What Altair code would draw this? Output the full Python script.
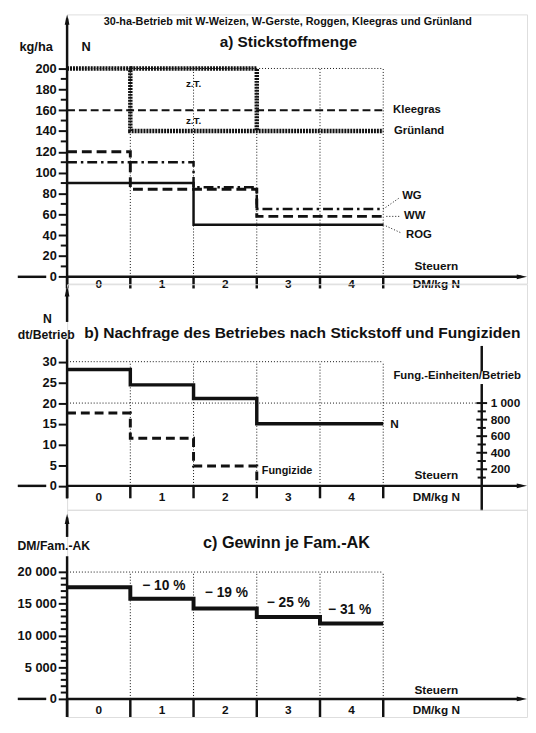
import altair as alt
import pandas as pd

FONT = "Liberation Sans, Arial, sans-serif"
INK = "#111111"

# ---------------- data ----------------
step_bounds = [0, 1, 2, 3, 4, 5]            # Steuern, DM/kg N (class bounds)
price_labels = ["0", "1", "2", "3", "4"]
price_pos = [0.5, 1.5, 2.5, 3.5, 4.5]

# a) Stickstoffmenge, kg N/ha (value per price class 0..4)
a_ww = [120, 84, 84, 58, 58]
a_wg = [110, 110, 86, 65, 65]
a_rog = [90, 90, 50, 50, 50]
a_kleegras = [160, 160, 160, 160, 160]
a_gruenland = [200, 140, 140, 140, 140]
a_zt_x = [1, 3, 3]
a_zt_y = [200, 200, 140]
a_ticks = list(range(0, 201, 20))
a_minor = list(range(10, 200, 20))

# b) Nachfrage des Betriebes, dt N/Betrieb and Fungizide
b_n = [28.1, 24.4, 21.1, 15.0, 15.0]
b_fung = [17.6, 11.5, 4.8, 0.0]          # at class bounds 0..3
b_ticks = [0, 5, 10, 15, 20, 25, 30]
b_fung_ticks = [200, 400, 600, 800, 1000]
b_fung_labels = ["200", "400", "600", "800", "1 000"]
b_fung_minor = [100, 300, 500, 700, 900]
FUNG_PER_DT = 50                          # 1000 Fung.-Einheiten <-> 20 dt

# c) Gewinn je Fam.-AK, DM
c_gewinn = [17600, 15800, 14250, 12900, 11900]
c_pct = ["− 10 %", "− 19 %", "− 25 %", "− 31 %"]
c_pct_x = [1.53, 2.52, 3.50, 4.47]
c_pct_y = [17750, 16700, 15150, 13950]
c_ticks = [0, 5000, 10000, 15000, 20000]
c_minor = [v for v in range(1000, 20000, 1000) if v % 5000]

# ---------------- layout ----------------
PX_PER_STEP = 64.2
PLOT_W = 467
X_MAX = PLOT_W / PX_PER_STEP
X_SCALE = alt.Scale(domain=[0, X_MAX], nice=False, zero=False)
X_LEFT = -0.78
X_GAP = -0.33
STEUERN_X = 5.84
V_FIT = 0.983          # vertical squeeze so the page needs no scrolling
UP = "M0,0L0.6,2.6L-0.6,2.6Z"
RIGHT = "M0,0L-2.6,-0.6L-2.6,0.6Z"
GRID = dict(dash=[1, 2], width=1)


def ext(v):
    return v + [v[-1]]


def axis(values, expr=None):
    kw = dict(values=values, title=None, domain=False, grid=False, ticks=True,
              tickSize=9, tickWidth=2, tickColor=INK, labelColor=INK,
              labelFont=FONT, labelFontSize=13, labelFontWeight="bold",
              labelPadding=2, labelFlush=False, labelOverlap=False)
    if expr:
        kw["labelExpr"] = expr
    return alt.Axis(**kw)


class Panel:
    def __init__(self, domain, height, y_axis):
        self.ysc = alt.Scale(domain=domain, nice=False, zero=False)
        self.height = round(height * V_FIT, 1)
        self.y_axis = y_axis
        self.layers = []

    def _xy(self):
        return dict(x=alt.X("x:Q", scale=X_SCALE, axis=None),
                    y=alt.Y("y:Q", scale=self.ysc, axis=self.y_axis))

    def rules(self, rows, width=1.0, dash=None, opacity=1.0):
        df = pd.DataFrame(rows, columns=["x", "y", "x2", "y2"])
        mk = dict(color=INK, strokeWidth=width, opacity=opacity)
        if dash:
            mk["strokeDash"] = dash
        self.layers.append(alt.Chart(df).mark_rule(**mk).encode(
            x2="x2:Q", y2="y2:Q", **self._xy()))

    def line(self, xs, ys, width, dash=None, step=True):
        df = pd.DataFrame({"x": xs, "y": ys, "o": list(range(len(xs)))})
        mk = dict(color=INK, strokeWidth=width,
                  interpolate="step-after" if step else "linear")
        if dash:
            mk["strokeDash"] = dash
        self.layers.append(alt.Chart(df).mark_line(**mk).encode(
            order="o:Q", **self._xy()))

    def text(self, rows, size=12, align="center", baseline="middle"):
        df = pd.DataFrame(rows, columns=["x", "y", "t"])
        self.layers.append(alt.Chart(df).mark_text(
            font=FONT, fontWeight="bold", fontSize=size, align=align,
            baseline=baseline, color=INK).encode(text="t:N", **self._xy()))

    def arrow(self, x, y, shape):
        df = pd.DataFrame({"x": [x], "y": [y]})
        self.layers.append(alt.Chart(df).mark_point(
            shape=shape, size=64, filled=True, color=INK, opacity=1,
            strokeWidth=0).encode(**self._xy()))

    def chart(self):
        return alt.layer(*self.layers).properties(width=PLOT_W, height=self.height)


def grid(p, top):
    p.rules([[b, 0, b, top] for b in step_bounds[1:]] + [[0, top, 5, top]], **GRID)


def frame(p, tick_bottom, y_tip, y_segments, label_y, steuern_y):
    p.rules([[X_LEFT, 0, X_GAP, 0], [0, 0, X_MAX - 0.09, 0]], width=2.5)
    p.arrow(X_MAX, 0, RIGHT)
    p.rules([[b, 0, b, tick_bottom] for b in step_bounds], width=2.5)
    p.rules([[0, a, 0, b] for a, b in y_segments], width=2.5)
    p.arrow(0, y_tip, UP)
    p.text([[c, label_y, l] for c, l in zip(price_pos, price_labels)]
           + [[STEUERN_X, label_y, "DM/kg N"], [STEUERN_X, steuern_y, "Steuern"]],
           size=12)


# ---------------- panel a ----------------
pa = Panel([-6.5, 251.9], 278, axis(a_ticks))
pa.rules([[-0.912, 251.9, -0.912, 251.0]], width=1, opacity=0)   # layout anchor
grid(pa, 200)
pa.rules([[-0.1, v, 0, v] for v in a_minor], width=2)
pa.line(step_bounds, ext(a_kleegras), 2, dash=[8, 4])
pa.line(step_bounds, ext(a_gruenland), 4.5, dash=[2, 1])
pa.line(a_zt_x, a_zt_y, 4.5, dash=[2, 1], step=False)
pa.line(step_bounds, ext(a_rog), 2.5)
pa.line(step_bounds, ext(a_ww), 3, dash=[10, 5])
pa.line(step_bounds, ext(a_wg), 2.5, dash=[10, 4, 2.5, 4])
pa.rules([[5, a_wg[-1], 5.265, 76.2], [5.05, a_ww[-1], 5.265, a_ww[-1]],
          [5, a_rog[-1], 5.296, 41.8]], **GRID)
pa.text([[5.156, 160, "Kleegras"], [5.17, 140.4, "Grünland"],
         [5.3, 77.2, "WG"], [5.33, 58.6, "WW"], [5.36, 40, "ROG"]],
        size=11.5, align="left")
pa.text([[2, 185, "z.T."], [2, 149.5, "z.T."]], size=10)
frame(pa, -11.2, 251.9, [[248, -11.2]], -7.4, 10.2)
pa.text([[-0.49, 220.3, "kg/ha"], [0.30, 220.3, "N"]], size=13)
pa.text([[3.5, 225, "a) Stickstoffmenge"]], size=15.6)
pa.text([[3.49, 250.5, "30-ha-Betrieb mit W-Weizen, W-Gerste, Roggen, Kleegras und Grünland"]],
        size=11, baseline="top")

# ---------------- panel b ----------------
pb = Panel([-5.78, 48.70], 233, axis(b_ticks))
grid(pb, 30)
FUNG_X = 6.558
pb.rules([[0, 20, FUNG_X, 20]], **GRID)
pb.line(step_bounds, ext(b_n), 3.5)
pb.line(step_bounds[:4], b_fung, 3, dash=[9, 5])
pb.rules([[FUNG_X, 33.8, FUNG_X, 27.7], [FUNG_X, 24.6, FUNG_X, -6.0]], width=2.5)
pb.rules([[FUNG_X - 0.085, v / FUNG_PER_DT, FUNG_X + 0.085, v / FUNG_PER_DT]
          for v in b_fung_ticks], width=2)
pb.rules([[FUNG_X - 0.065, v / FUNG_PER_DT, FUNG_X + 0.065, v / FUNG_PER_DT]
          for v in b_fung_minor], width=2)
pb.text([[6.70, v / FUNG_PER_DT, l] for v, l in zip(b_fung_ticks, b_fung_labels)],
        size=12, align="left")
pb.text([[6.17, 26.5, "Fung.-Einheiten/Betrieb"]], size=11.5)
pb.text([[5.11, b_n[-1], "N"]], size=12, align="left")
pb.text([[3.08, 3.6, "Fungizide"]], size=11, align="left")
frame(pb, -3.0, 48.2, [[47.5, 39.6], [35.4, -3.0]], -2.7, 2.6)
pb.text([[-0.31, 40.3, "N"], [-0.33, 36.5, "dt/Betrieb"]], size=12.4)
pb.text([[3.72, 37.0, "b) Nachfrage des Betriebes nach Stickstoff und Fungiziden"]], size=15.8)

# ---------------- panel c ----------------
pc = Panel([-2855, 29817], 214,
           axis(c_ticks, "datum.value == 0 ? '0' : replace(format(datum.value, ','), ',', ' ')"))
grid(pc, 20000)
pc.rules([[-0.1, v, 0, v] for v in c_minor], width=2)
pc.line(step_bounds, ext(c_gewinn), 4)
pc.text([[x, y, t] for x, y, t in zip(c_pct_x, c_pct_y, c_pct)], size=14)
frame(pc, -2855, 29200, [[28600, 25540], [22490, -2855]], -1780, 1420)
pc.text([[-0.21, 24170, "DM/Fam.-AK"]], size=12.4)
pc.text([[3.47, 24620, "c) Gewinn je Fam.-AK"]], size=16.5)

chart = alt.vconcat(pa.chart(), pb.chart(), pc.chart(), spacing=0, bounds="flush") \
    .resolve_scale(x="independent", y="independent") \
    .properties(padding=0) \
    .configure_view(stroke=None) \
    .configure(font=FONT)

chart.save("out.html", embed_options={"renderer": "svg", "actions": False})
